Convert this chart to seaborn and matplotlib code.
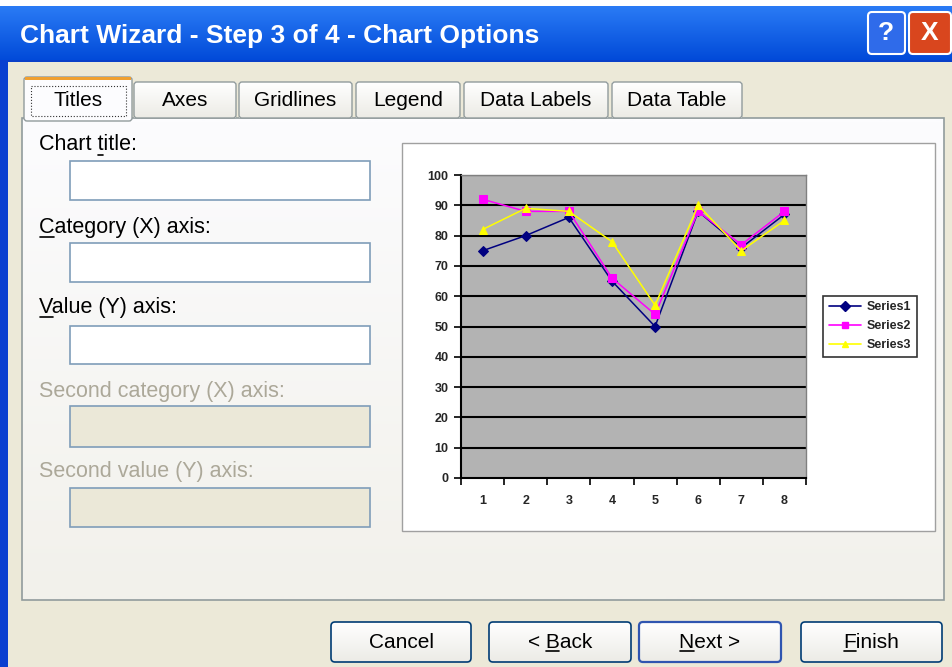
import matplotlib
matplotlib.use("Agg")
import matplotlib.pyplot as plt
import numpy as np
import pandas as pd
import seaborn as sns
from matplotlib.patches import Rectangle, FancyBboxPatch
from matplotlib.lines import Line2D

# chart data
categories = [1, 2, 3, 4, 5, 6, 7, 8]
series1 = [75, 80, 86, 65, 50, 88, 76, 87]
series2 = [92, 88, 88, 66, 54, 88, 77, 88]
series3 = [82, 89, 88, 78, 57, 90, 75, 85]
series_names = ["Series1", "Series2", "Series3"]
y_ticks = [0, 10, 20, 30, 40, 50, 60, 70, 80, 90, 100]

# dialog texts (index of the underlined access key, or None)
window_title = "Chart Wizard - Step 3 of 4 - Chart Options"
tab_names = ["Titles", "Axes", "Gridlines", "Legend", "Data Labels", "Data Table"]
field_labels = ["Chart title:", "Category (X) axis:", "Value (Y) axis:",
                "Second category (X) axis:", "Second value (Y) axis:"]
field_keys = [6, 0, 0, None, None]
button_names = ["Cancel", "< Back", "Next >", "Finish"]
button_keys = [None, 2, 0, 0]

W, H = 952, 667
UI_FONT = ["Liberation Sans", "DejaVu Sans"]

sns.set_theme(style="white")
plt.rcParams["font.family"] = ["Liberation Sans", "DejaVu Sans"]

fig = plt.figure(figsize=(W / 100, H / 100), dpi=100)
fig.patch.set_facecolor("#ECE9D8")

# background axes in pixel coordinates for the dialog chrome
bg = fig.add_axes([0, 0, 1, 1])
bg.set_xlim(0, W)
bg.set_ylim(H, 0)
bg.axis("off")
renderer = fig.canvas.get_renderer()


def rect(x0, y0, x1, y1, fc, ec="none", lw=1, z=1, r=0):
    if r:
        p = FancyBboxPatch((x0, y0), x1 - x0, y1 - y0,
                           boxstyle=f"round,pad=0,rounding_size={r}",
                           fc=fc, ec=ec, lw=lw, zorder=z)
    else:
        p = Rectangle((x0, y0), x1 - x0, y1 - y0, fc=fc, ec=ec, lw=lw, zorder=z)
    bg.add_patch(p)
    return p


def vgrad(x0, y0, x1, y1, c_top, c_bot, z=1):
    top = np.array(matplotlib.colors.to_rgb(c_top))
    bot = np.array(matplotlib.colors.to_rgb(c_bot))
    t = np.linspace(0, 1, 64)[:, None]
    img = (top * (1 - t) + bot * t)[:, None, :]
    bg.imshow(img, extent=(x0, x1, y1, y0), aspect="auto", zorder=z,
              interpolation="bilinear")


def text_width(s, size):
    t = bg.text(0, 0, s, fontsize=size, family=UI_FONT)
    w = t.get_window_extent(renderer).width
    t.remove()
    return w


def ui_text(x, y, s, size, key=None, ha="left", color="black"):
    t = bg.text(x, y, s, fontsize=size, ha=ha, va="center", family=UI_FONT,
                color=color, zorder=6)
    if key is not None:
        full = text_width(s, size)
        left = x - full / 2 if ha == "center" else x
        x0 = left + (text_width(s[:key], size) if key else 0)
        x1 = left + text_width(s[:key + 1], size)
        uy = y + size * 0.62
        bg.plot([x0 + 0.5, x1 - 0.5], [uy, uy], color=color, lw=1.2, zorder=6)
    return t


# title bar
rect(0, 0, W, 6, "white", z=1)
vgrad(0, 6, W, 62, "#2A7BF5", "#0049D8", z=1)
rect(0, 60, W, 62, "#0A3FC8", z=2)
bg.text(20, 36, window_title, color="white", fontsize=19, fontweight="bold",
        va="center", ha="left", family=UI_FONT, zorder=5)
rect(868, 12, 905, 54, "#2F6BEA", ec="white", lw=1.5, z=3, r=4)
bg.text(886, 33, "?", color="white", fontsize=19, fontweight="bold",
        ha="center", va="center", zorder=5)
rect(909, 12, 951, 54, "#D9461E", ec="white", lw=1.5, z=3, r=4)
bg.text(930, 33, "X", color="white", fontsize=19, fontweight="bold",
        ha="center", va="center", zorder=5)

# window left border
rect(0, 60, 8, H, "#0A3FD0", z=2)

# tab panel
vgrad(22, 118, 944, 600, "#FCFCFE", "#F2F1EB", z=1)
rect(22, 118, 944, 600, "none", ec="#919B9C", lw=1.2, z=2)

tab_x = [(24, 132), (134, 236), (239, 352), (356, 460), (464, 608), (612, 742)]
for i, (name, (x0, x1)) in enumerate(zip(tab_names, tab_x)):
    if i == 0:
        rect(x0, 77, x1, 121, "#FCFCFE", ec="#919B9C", lw=1, z=4, r=3)
        rect(x0 + 1, 77, x1 - 1, 80, "#F0A030", z=5)
        rect(31, 86, 126, 116, "none", ec="#333333", lw=0.8, z=5).set_linestyle(":")
    else:
        vgrad(x0, 82, x1, 118, "#FFFFFF", "#ECEBE5", z=3)
        rect(x0, 82, x1, 118, "none", ec="#919B9C", lw=1, z=4, r=3)
    ui_text((x0 + x1) / 2, 101, name, 15, ha="center")

# field labels and text boxes
label_y = [145, 227, 307, 392, 472]
box_y = [(161, 200), (243, 282), (326, 364), (406, 447), (488, 527)]
for i, (lab, key, ly, (b0, b1)) in enumerate(zip(field_labels, field_keys,
                                                 label_y, box_y)):
    enabled = i < 3
    ui_text(39, ly, lab, 15.5, key=key,
            color="black" if enabled else "#ACA899")
    rect(70, b0, 370, b1, "white" if enabled else "#EBE8D8", ec="#7F9DB9",
         lw=1.2, z=4)

# chart area frame
rect(402, 143, 935, 531, "white", ec="#A0A0A0", lw=1, z=3)

# buttons
btn_x = [(331, 471), (489, 631), (639, 781), (801, 942)]
for name, key, (x0, x1) in zip(button_names, button_keys, btn_x):
    vgrad(x0, 622, x1, 662, "#FFFFFF", "#ECEBE6", z=3)
    ec = "#2F55B0" if name == "Next >" else "#003C74"
    rect(x0, 622, x1, 662, "none", ec=ec, lw=1.6 if name == "Next >" else 1.2,
         z=4, r=4)
    ui_text((x0 + x1) / 2, 642, name, 15, key=key, ha="center")

# the chart itself
df = pd.DataFrame({
    "x": categories * 3,
    "value": series1 + series2 + series3,
    "series": sum([[n] * len(categories) for n in series_names], []),
})
palette = {"Series1": "#000080", "Series2": "#FF00FF", "Series3": "#FFFF00"}
markers = {"Series1": "D", "Series2": "s", "Series3": "^"}

ax = fig.add_axes([461 / W, 1 - 478 / H, (806 - 461) / W, (478 - 175) / H])
ax.set_zorder(10)
sns.lineplot(data=df, x="x", y="value", hue="series", style="series",
             palette=palette, markers=markers, dashes=False, markersize=5.5,
             markeredgecolor=None, linewidth=1.1, ax=ax, legend=False)
ax.set_facecolor("#B3B3B3")
ax.set_xlim(0.5, 8.5)
ax.set_ylim(0, 100)
ax.set_yticks(y_ticks)
ax.set_xticks(categories)
ax.set_xticklabels([str(c) for c in categories], fontweight="bold")
ax.set_yticklabels([str(v) for v in y_ticks], fontweight="bold")
ax.set_xticks(np.arange(0.5, 9.0, 1.0), minor=True)
ax.tick_params(axis="x", which="major", length=0, pad=12, labelsize=9)
ax.tick_params(axis="x", which="minor", length=5, width=1.2, direction="out",
               bottom=True, color="black")
ax.tick_params(axis="y", which="major", length=5, width=1.2, direction="out",
               left=True, labelsize=9, pad=4, color="black")
ax.set_xlabel("")
ax.set_ylabel("")
for yv in y_ticks[1:]:
    ax.axhline(yv, color="black", lw=1.5, zorder=1)
for s in ["top", "right"]:
    ax.spines[s].set_color("#808080")
    ax.spines[s].set_linewidth(1)
for s in ["left", "bottom"]:
    ax.spines[s].set_color("black")
    ax.spines[s].set_linewidth(1.5)

handles = [Line2D([0], [0], color=palette[n], marker=markers[n], markersize=5,
                  lw=1.2) for n in series_names]
leg = ax.legend(handles, series_names, loc="center left",
                bbox_to_anchor=(817 / W, 1 - 326 / H),
                bbox_transform=fig.transFigure, frameon=True,
                prop={"size": 9, "weight": "bold"},
                fancybox=False, edgecolor="black", borderpad=0.45,
                handlelength=2.6, handletextpad=0.4, labelspacing=0.55)
leg.get_frame().set_linewidth(1.2)

fig.savefig("out.png", dpi=100, facecolor=fig.get_facecolor())
